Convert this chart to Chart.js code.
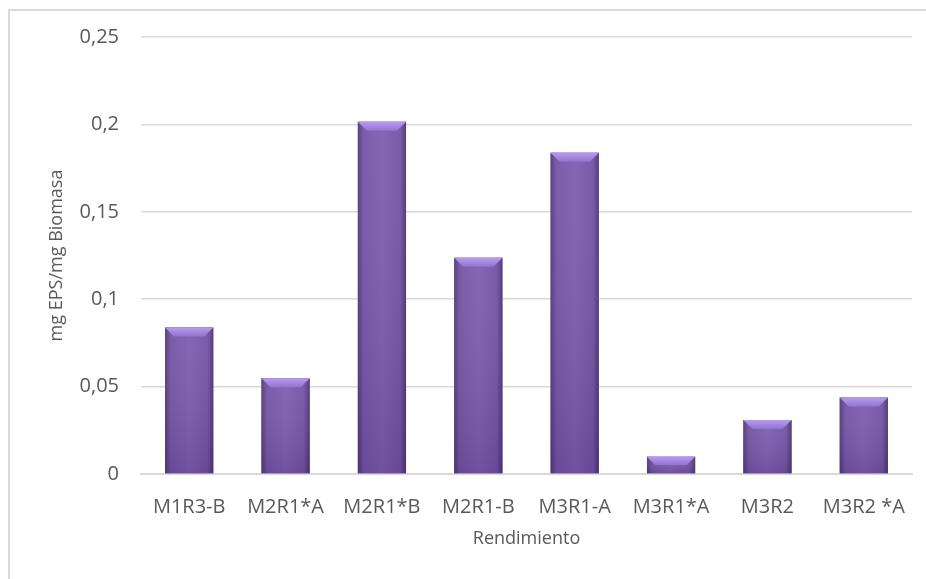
<!DOCTYPE html>
<html>
<head>
<meta charset="utf-8">
<script src="https://cdn.jsdelivr.net/npm/chart.js@4.4.1/dist/chart.umd.min.js"></script>
<style>
  html, body { margin: 0; padding: 0; background: #fff; }
  body { width: 926px; height: 579px; overflow: hidden; position: relative; }
  .frame {
    position: absolute; left: 8px; top: 9px; width: 1000px; height: 700px;
    border-left: 2px solid #d9d9d9; border-top: 2px solid #d9d9d9;
  }
  #grafica { position: absolute; left: 0; top: 0; }
</style>
</head>
<body>
<div class="frame"></div>
<canvas id="grafica" width="926" height="579"></canvas>
<script>
const muestras = ['M1R3-B', 'M2R1*A', 'M2R1*B', 'M2R1-B', 'M3R1-A', 'M3R1*A', 'M3R2', 'M3R2 *A'];
const rendimiento = [0.0838, 0.0548, 0.2015, 0.1237, 0.1838, 0.0099, 0.0309, 0.0437];
const ticksY = [0, 0.05, 0.1, 0.15, 0.2, 0.25];

const FUENTE = "'Open Sans', sans-serif";
const GRIS = '#595959';

// relieve de las barras: degradado lateral y bisel superior
const bisel = {
  id: 'bisel',
  afterDatasetsDraw(chart) {
    const ctx = chart.ctx;
    chart.getDatasetMeta(0).data.forEach(el => {
      const { x, y, base, width } = el.getProps(['x', 'y', 'base', 'width'], true);
      const l = x - width / 2, r = x + width / 2, h = base - y;
      const b = Math.min(9, h / 2);
      ctx.save();
      const g = ctx.createLinearGradient(l, 0, r, 0);
      g.addColorStop(0, '#523879');
      g.addColorStop(0.12, '#7355a5');
      g.addColorStop(0.5, '#7e5db1');
      g.addColorStop(0.88, '#7253a3');
      g.addColorStop(1, '#4d3473');
      ctx.fillStyle = g;
      ctx.fillRect(l, y, width, h);
      const v = ctx.createLinearGradient(0, y, 0, base);
      v.addColorStop(0, 'rgba(255,255,255,0.05)');
      v.addColorStop(1, 'rgba(30,10,60,0.14)');
      ctx.fillStyle = v;
      ctx.fillRect(l, y, width, h);
      const t = ctx.createLinearGradient(0, y, 0, y + b);
      t.addColorStop(0, '#b69cef');
      t.addColorStop(1, '#9173cf');
      ctx.fillStyle = t;
      ctx.beginPath();
      ctx.moveTo(l, y);
      ctx.lineTo(r, y);
      ctx.lineTo(r - b, y + b);
      ctx.lineTo(l + b, y + b);
      ctx.closePath();
      ctx.fill();
      ctx.restore();
    });
  }
};

new Chart(document.getElementById('grafica'), {
  type: 'bar',
  data: {
    labels: muestras,
    datasets: [{
      label: 'Rendimiento',
      data: rendimiento,
      backgroundColor: '#7556a6',
      categoryPercentage: 1,
      barPercentage: 0.5
    }]
  },
  options: {
    responsive: false,
    animation: false,
    layout: { padding: { top: 37, right: 14, bottom: 10, left: 8 } },
    plugins: { legend: { display: false }, tooltip: { enabled: false } },
    scales: {
      x: {
        afterFit: s => { s.height = 95; },
        grid: { display: false },
        border: { display: true, color: '#d9d9d9', width: 2 },
        ticks: { color: GRIS, font: { family: FUENTE, size: 20 }, padding: 13, maxRotation: 0 },
        title: {
          display: true, text: 'Rendimiento', color: GRIS,
          font: { family: FUENTE, size: 18 }, padding: { top: 4, bottom: 19 }
        }
      },
      y: {
        min: 0,
        max: 0.25,
        afterFit: s => { s.width = 133; },
        afterBuildTicks: s => { s.ticks = ticksY.map(v => ({ value: v })); },
        grid: { color: '#d9d9d9', lineWidth: 1.5, drawTicks: false },
        border: { display: false },
        ticks: {
          color: GRIS, font: { family: FUENTE, size: 20 }, padding: 22,
          callback: v => String(Math.round(v * 100) / 100).replace('.', ',')
        },
        title: {
          display: true, text: 'mg EPS/mg Biomasa', color: GRIS,
          font: { family: FUENTE, size: 18 }, padding: { top: 38, bottom: 0 }
        }
      }
    }
  },
  plugins: [bisel]
});
</script>
</body>
</html>
